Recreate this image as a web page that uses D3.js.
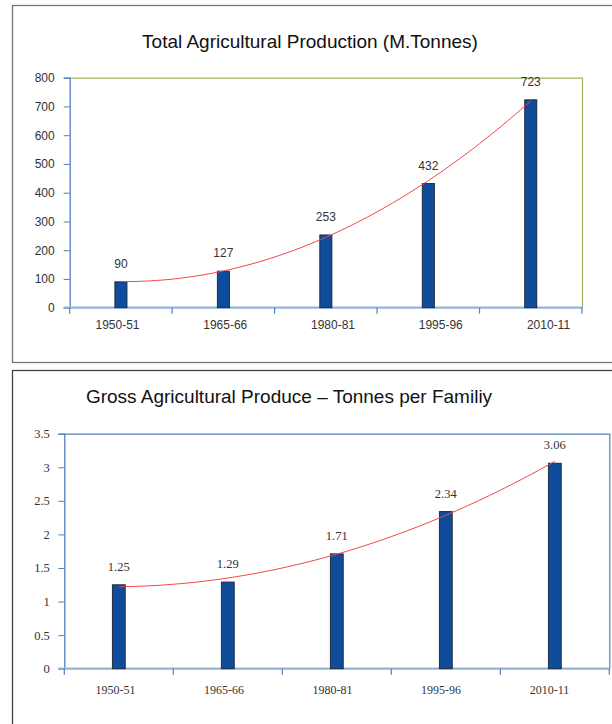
<!DOCTYPE html>
<html>
<head>
<meta charset="utf-8">
<script src="https://cdn.jsdelivr.net/npm/d3@7"></script>
<style>
  html, body { margin: 0; padding: 0; background: #fff; }
  svg { display: block; }
</style>
</head>
<body>
<svg id="chart" width="612" height="724"></svg>
<script>
// Periods shared by both charts
const periods = ["1950-51", "1965-66", "1980-81", "1995-96", "2010-11"];

// Total agricultural production, million tonnes
const totalProduction = [90, 127, 253, 432, 723];
const totalTicks = [0, 100, 200, 300, 400, 500, 600, 700, 800];

// Gross agricultural produce, tonnes per family
const producePerFamily = [1.25, 1.29, 1.71, 2.34, 3.06];
const familyTicks = [0, 0.5, 1, 1.5, 2, 2.5, 3, 3.5];

const svg = d3.select("#chart");

// Least-squares quadratic trend y = a + b*t + c*t^2 (t = centred index)
function quadraticTrend(values) {
  const n = values.length, mid = (n - 1) / 2;
  const t = values.map((_, i) => i - mid);
  const s2 = d3.sum(t, d => d * d), s4 = d3.sum(t, d => d ** 4);
  const sy = d3.sum(values), sty = d3.sum(values, (v, i) => t[i] * v);
  const st2y = d3.sum(values, (v, i) => t[i] * t[i] * v);
  const c = (n * st2y - s2 * sy) / (n * s4 - s2 * s2);
  const a = (sy - c * s2) / n;
  const b = sty / s2;
  return i => { const u = i - mid; return a + b * u + c * u * u; };
}

function drawChart(cfg) {
  const g = svg.append("g");

  // outer panel frame
  g.append("rect")
    .attr("x", cfg.panel[0]).attr("y", cfg.panel[1])
    .attr("width", cfg.panel[2]).attr("height", cfg.panel[3])
    .attr("fill", "none").attr("stroke", cfg.panelStroke).attr("stroke-width", 1.3);

  g.append("text")
    .attr("x", cfg.titleX).attr("y", cfg.titleY)
    .attr("text-anchor", "middle")
    .attr("font-family", "Liberation Sans, Arial, sans-serif")
    .attr("font-size", cfg.titleSize).attr("fill", "#111")
    .text(cfg.title);

  const x = d3.scaleBand().domain(periods).range([cfg.left, cfg.right]).padding(0);
  const y = d3.scaleLinear().domain([0, d3.max(cfg.ticks)]).range([cfg.bottom, cfg.top]);
  const barW = x.step() * 0.118;
  const cx = p => x(p) + x.bandwidth() / 2;

  // top and right frame of the plot area
  g.append("path")
    .attr("d", `M${cfg.left},${cfg.top + 0.5}H${cfg.right + 0.5}V${cfg.bottom}`)
    .attr("fill", "none").attr("stroke", cfg.frameStroke).attr("stroke-width", 1.2);

  // value axis
  const yAxis = g.append("g")
    .attr("transform", `translate(${cfg.left},0)`)
    .call(d3.axisLeft(y).tickValues(cfg.ticks).tickSize(6).tickPadding(cfg.yPad)
      .tickFormat(d => String(d)));
  yAxis.select(".domain").attr("stroke", "#4f81bd").attr("stroke-width", 1.3);
  yAxis.selectAll(".tick line").attr("stroke", "#4f81bd");
  yAxis.selectAll(".tick text")
    .attr("font-family", cfg.tickFont).attr("font-size", cfg.yTickSize).attr("fill", "#333");

  // category axis: ticks on band boundaries
  const bounds = periods.map(p => x(p)).concat([cfg.right]);
  const xAxis = g.append("g");
  xAxis.append("line")
    .attr("x1", cfg.left - 6).attr("x2", cfg.right + 1)
    .attr("y1", cfg.bottom).attr("y2", cfg.bottom)
    .attr("stroke", "#95b3d7").attr("stroke-width", 2.2);
  xAxis.selectAll("line.tk").data(bounds).join("line")
    .attr("class", "tk")
    .attr("x1", d => d).attr("x2", d => d)
    .attr("y1", cfg.bottom).attr("y2", cfg.bottom + 6)
    .attr("stroke", "#4f81bd").attr("stroke-width", 1.2);
  const lx = d3.scalePoint().domain(periods).range(cfg.labelRange);
  xAxis.selectAll("text").data(periods).join("text")
    .attr("x", d => lx(d)).attr("y", cfg.bottom + cfg.xLabelDy)
    .attr("text-anchor", "middle")
    .attr("font-family", cfg.tickFont).attr("font-size", cfg.tickSize).attr("fill", "#333")
    .text(d => d);

  // bars
  g.selectAll("rect.bar").data(cfg.values).join("rect")
    .attr("class", "bar")
    .attr("x", (d, i) => cx(periods[i]) - barW / 2)
    .attr("y", d => y(d))
    .attr("width", barW)
    .attr("height", d => cfg.bottom - y(d))
    .attr("fill", "#0f4c9c").attr("stroke", "#1b2433").attr("stroke-width", 0.9);

  // value labels
  g.selectAll("text.val").data(cfg.values).join("text")
    .attr("class", "val")
    .attr("x", (d, i) => cx(periods[i]))
    .attr("y", d => y(d) - 14)
    .attr("text-anchor", "middle")
    .attr("font-family", cfg.tickFont).attr("font-size", cfg.valueSize).attr("fill", "#333")
    .text(d => cfg.valueFormat(d));

  // trend curve
  const trend = quadraticTrend(cfg.values);
  const pts = d3.range(0, periods.length - 1 + 1e-9, 0.05);
  g.append("path")
    .datum(pts)
    .attr("d", d3.line()
      .x(i => x(periods[0]) + x.bandwidth() / 2 + i * x.step())
      .y(i => y(trend(i))))
    .attr("fill", "none").attr("stroke", "#f0484a").attr("stroke-width", 1);
}

drawChart({
  title: "Total Agricultural Production (M.Tonnes)",
  titleX: 310, titleY: 48, titleSize: 19,
  panel: [12.5, 5.5, 620, 357],
  panelStroke: "#777",
  frameStroke: "#9bbb59",
  left: 69.7, right: 582, top: 77.7, bottom: 307.7,
  ticks: totalTicks,
  values: totalProduction,
  valueFormat: d => String(d),
  tickFont: "Liberation Sans, Arial, sans-serif",
  tickSize: 12, yTickSize: 12, valueSize: 12,
  yPad: 9,
  labelRange: [117.5, 548.5],
  xLabelDy: 21
});

drawChart({
  title: "Gross Agricultural Produce \u2013 Tonnes per Familiy",
  titleX: 289, titleY: 402.5, titleSize: 19,
  panel: [12.5, 370.5, 620, 400],
  panelStroke: "#444",
  frameStroke: "#4f81bd",
  left: 64.3, right: 609.3, top: 433.7, bottom: 668.7,
  ticks: familyTicks,
  values: producePerFamily,
  valueFormat: d => d.toFixed(2),
  tickFont: "Liberation Serif, Times New Roman, serif",
  tickSize: 12, yTickSize: 12.5, valueSize: 12.5,
  yPad: 8.5,
  labelRange: [115.5, 549.5],
  xLabelDy: 25
});
</script>
</body>
</html>
